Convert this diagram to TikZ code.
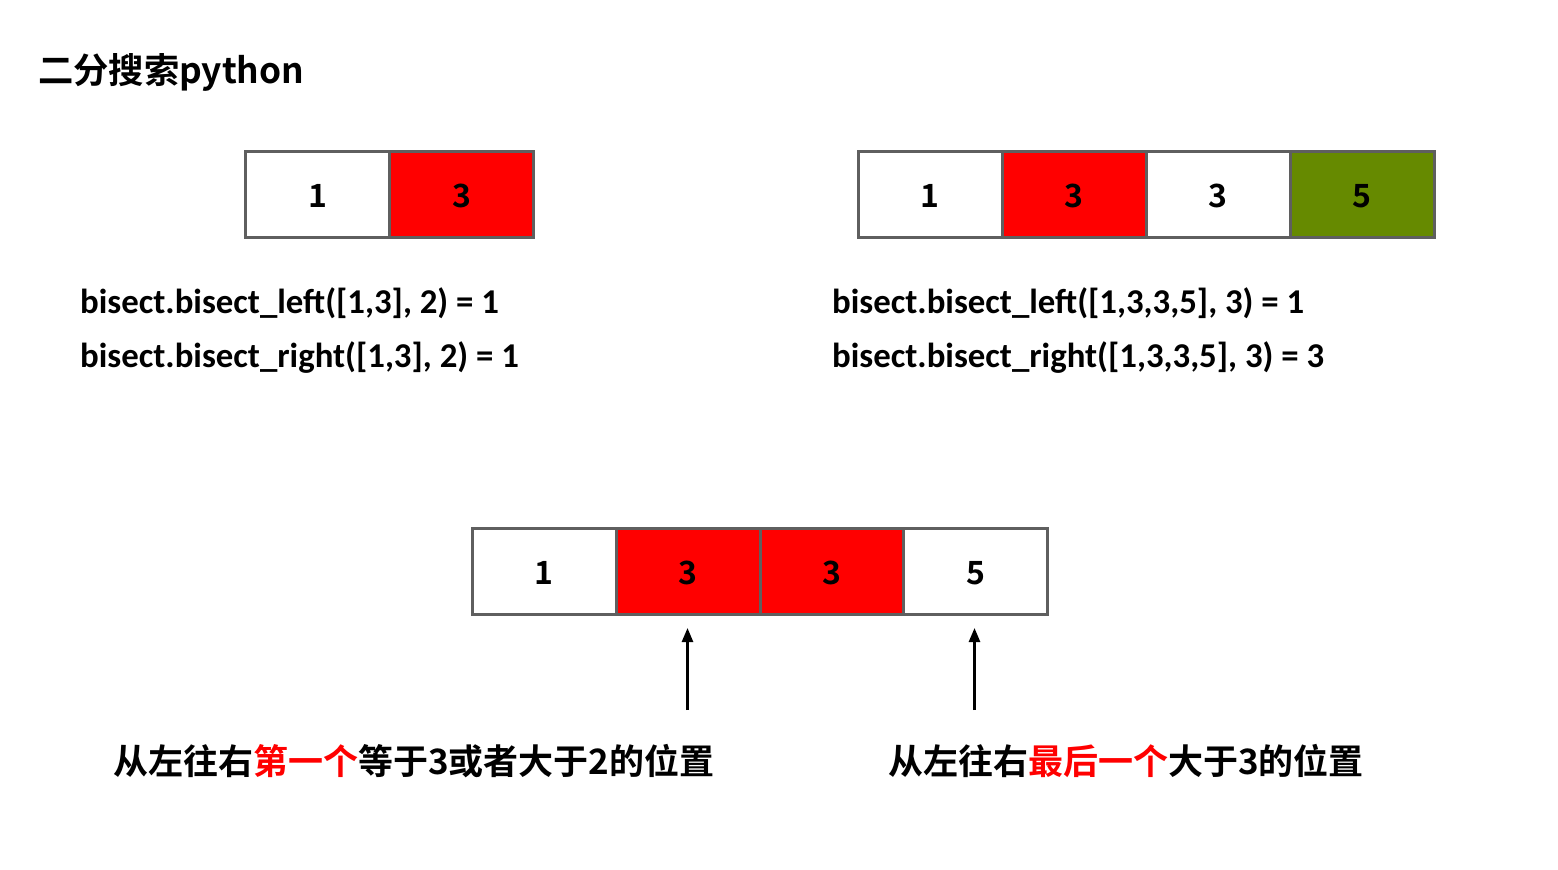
\documentclass[tikz,border=0pt]{standalone}
\usepackage{fontspec}
\setmainfont{Noto Sans CJK SC}[BoldFont={* Bold}]
\newfontfamily\cjkb{Noto Sans CJK SC Bold}
\newfontfamily\calb{Carlito}[BoldFont={* Bold}]
\usetikzlibrary{arrows.meta}
\definecolor{cellgray}{HTML}{5F5F5F}
\definecolor{cellred}{HTML}{FF0000}
\definecolor{cellgreen}{HTML}{668A00}
\tikzset{
  cell/.style={draw=cellgray, line width=3pt, minimum width=144pt, minimum height=86pt,
    inner sep=0pt, outer sep=0pt, font=\fontsize{32}{32}\selectfont\cjkb},
  codetxt/.style={anchor=base west, inner sep=0pt, font=\fontsize{34.8}{35}\selectfont\calb\bfseries},
  cjklabel/.style={anchor=west, inner sep=0pt, font=\fontsize{35}{35}\selectfont\cjkb},
  ptr/.style={-{Triangle[length=14pt,width=11pt]}, line width=2.5pt}
}
\newcommand{\cv}[1]{\raisebox{-2pt}[\height][\depth]{#1}}
\begin{document}
\begin{tikzpicture}[x=1pt,y=-1pt]
\useasboundingbox (0,0) rectangle (1558,870);
\fill[white] (0,0) rectangle (1558,870);
\node[anchor=base west, inner sep=0pt, font=\fontsize{35.3}{35}\selectfont\cjkb] (title) at (38,83) {二分搜索python};
% top-left array
\node[cell, fill=white] (a1) at (317.5,194) {\cv{1}};
\node[cell, fill=cellred] (a2) at (461.5,194) {\cv{3}};
% top-right array
\node[cell, fill=white] (b1) at (930,194) {\cv{1}};
\node[cell, fill=cellred] (b2) at (1074,194) {\cv{3}};
\node[cell, fill=white] (b3) at (1218,194) {\cv{3}};
\node[cell, fill=cellgreen] (b4) at (1362,194) {\cv{5}};
% code lines
\node[codetxt] (c1) at (80,313) {bisect.bisect\_left([1,3], 2) = 1};
\node[codetxt] (c2) at (80,367) {bisect.bisect\_right([1,3], 2) = 1};
\node[codetxt] (c3) at (832,313) {bisect.bisect\_left([1,3,3,5], 3) = 1};
\node[codetxt] (c4) at (832,367) {bisect.bisect\_right([1,3,3,5], 3) = 3};
% bottom array
\node[cell, fill=white] (d1) at (544,571) {\cv{1}};
\node[cell, fill=cellred] (d2) at (688,571) {\cv{3}};
\node[cell, fill=cellred] (d3) at (832,571) {\cv{3}};
\node[cell, fill=white] (d4) at (975.5,571) {\cv{5}};
% arrows
\coordinate (p1) at (687.5,710);
\coordinate (p2) at (974.5,710);
\draw[ptr] (p1) -- ([yshift=-14pt]d2.south -| p1);
\draw[ptr] (p2) -- ([yshift=-14pt]d4.south -| p2);
% labels
\node[cjklabel] (l1) at (113,761) {从左往右\textcolor{cellred}{第一个}等于3或者大于2的位置};
\node[cjklabel] (l2) at (888,761) {从左往右\textcolor{cellred}{最后一个}大于3的位置};
\end{tikzpicture}
\end{document}
